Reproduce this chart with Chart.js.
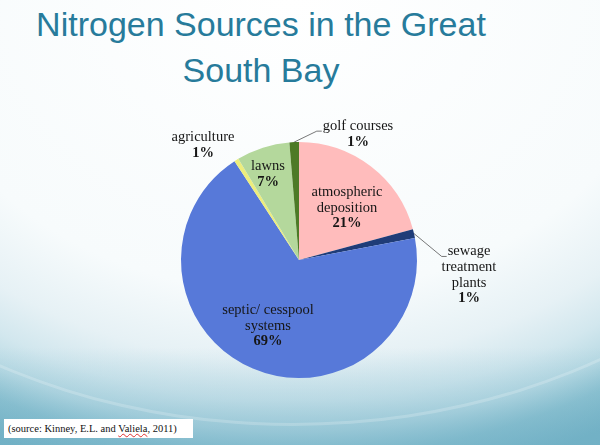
<!DOCTYPE html>
<html>
<head>
<meta charset="utf-8">
<script src="https://cdn.jsdelivr.net/npm/chart.js@4"></script>
<style>
  html, body { margin: 0; padding: 0; }
  #slide {
    position: relative; width: 600px; height: 445px; overflow: hidden;
    background:
      linear-gradient(to bottom, rgba(110,175,197,0) 78%, rgba(110,175,197,0.25) 90%, rgba(110,175,197,0.55) 100%),
      radial-gradient(ellipse 560px 432px at 290px 0px,
      #ffffff 0%, #f7fbfc 68%, #e6f1f5 84%, #d2e7ee 93%, #b9dae4 100%, #8fc3d2 106%, #76b3c6 114%);
  }
  #band {
    position: absolute; left: -300px; top: -470px; width: 1180px; height: 890px;
    border-radius: 50%; border: 3px solid rgba(255,255,255,0.2);
  }
  h1 {
    position: absolute; left: 0; top: 1px; width: 522px; margin: 0;
    font: 34px "Liberation Sans", Arial, sans-serif; line-height: 46px;
    color: #277b9b; text-align: center; font-weight: normal;
  }
  canvas { position: absolute; left: 0; top: 0; }
  #source {
    position: absolute; left: 4px; top: 419px; width: 189px; height: 19px;
    background: #fff; font: 10.5px "Liberation Serif", "Times New Roman", serif;
    color: #111; line-height: 19px; box-sizing: border-box; padding-left: 4px; white-space: nowrap;
  }
  #source span { text-decoration: underline wavy #e03030; text-decoration-thickness: 1px; }
</style>
</head>
<body>
<div id="slide">
  <div id="band"></div>
  <h1>Nitrogen Sources in the Great<br>South Bay</h1>
  <canvas id="chart" width="600" height="445"></canvas>
  <div id="source">(source: Kinney, E.L. and <span>Valiela</span>, 2011)</div>
</div>
<script>
// fatias no sentido horario a partir do topo
const fontes = ['atmospheric deposition', 'sewage treatment plants', 'septic/ cesspool systems', 'agriculture', 'lawns', 'golf courses'];
const linhas = [['atmospheric', 'deposition'], ['sewage', 'treatment', 'plants'], ['septic/ cesspool', 'systems'], ['agriculture'], ['lawns'], ['golf courses']];
const percentuais = ['21%', '1%', '69%', '1%', '7%', '1%'];
const valores = [20.8, 1.2, 68.8, 0.6, 7.3, 1.3];

const cores = ['#ffbcbc', '#1f3c78', '#5779d9', '#eded7c', '#b4d89c', '#4d7a26'];

// posicao dos rotulos (deslocamento a partir do centro da pizza) e se tem linha guia
const layoutRotulos = [
    { dx: 48, dy: -52, guia: false },
    { dx: 170, dy: 15, guia: true },
    { dx: -31, dy: 66, guia: false },
    { dx: -96, dy: -115, guia: false },
    { dx: -31, dy: -86, guia: false },
    { dx: 59, dy: -126, guia: true }
];

const fonte = '14.5px "Liberation Serif", "Times New Roman", serif';

const rotulosPlugin = {
    id: 'rotulos',
    afterDatasetsDraw(chart) {
        const ctx = chart.ctx;
        const meta = chart.getDatasetMeta(0);
        const lh = 15.7;
        ctx.save();
        ctx.textAlign = 'center';
        ctx.textBaseline = 'middle';
        ctx.fillStyle = '#161616';
        meta.data.forEach((arc, i) => {
            const p = arc.getProps(['x', 'y', 'startAngle', 'endAngle', 'outerRadius'], true);
            const lay = layoutRotulos[i];
            const cx = p.x + lay.dx;
            const cy = p.y + lay.dy;
            const todas = linhas[i].concat([percentuais[i]]);
            const y0 = cy - (todas.length - 1) * lh / 2;

            if (lay.guia) {
                ctx.font = fonte;
                const w = ctx.measureText(linhas[i][0]).width;
                const mid = (p.startAngle + p.endAngle) / 2;
                const ex = p.x + Math.cos(mid) * p.outerRadius;
                const ey = p.y + Math.sin(mid) * p.outerRadius;
                const lx = cx - w / 2 - 1;
                const ly = y0 + 5;
                ctx.strokeStyle = '#555';
                ctx.lineWidth = 0.8;
                ctx.beginPath();
                ctx.moveTo(ex, ey);
                ctx.lineTo(lx - 5, ly);
                ctx.lineTo(lx, ly);
                ctx.stroke();
            }

            todas.forEach((t, k) => {
                const ehPct = k === todas.length - 1;
                ctx.font = (ehPct ? 'bold ' : '') + fonte;
                ctx.fillText(t, cx, y0 + k * lh);
            });
        });
        ctx.restore();
    }
};

const ctx = document.getElementById('chart').getContext('2d');
const chart = new Chart(ctx, {
    type: 'pie',
    data: {
        labels: fontes,
        datasets: [{
            data: valores,
            backgroundColor: cores,
            borderWidth: 0
        }]
    },
    options: {
        responsive: false,
        animation: false,
        layout: {
            padding: { left: 181, right: 183, top: 142, bottom: 67 }
        },
        plugins: {
            legend: { display: false },
            tooltip: { enabled: false }
        }
    },
    plugins: [rotulosPlugin]
});
</script>
</body>
</html>
